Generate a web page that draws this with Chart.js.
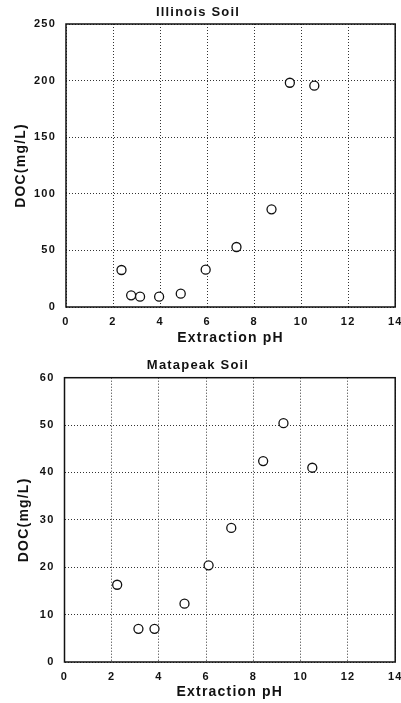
<!DOCTYPE html>
<html>
<head>
<meta charset="utf-8">
<script src="https://cdn.jsdelivr.net/npm/chart.js@4/dist/chart.umd.min.js"></script>
<style>
  body { margin: 0; background: #fff; }
  .box { position: absolute; left: 0; width: 401px; }
</style>
</head>
<body>
<div class="box" style="top:0;height:350px"><canvas id="illinois"></canvas></div>
<div class="box" style="top:350px;height:353px"><canvas id="matapeak"></canvas></div>
<script>
// Illinois soil: extraction pH vs DOC (mg/L)
const illinoisPH = [2.36, 2.77, 3.15, 3.96, 4.88, 5.94, 7.25, 8.74, 9.52, 10.56];
const illinoisDOC = [32.7, 10.3, 9.1, 9.1, 11.8, 33, 53, 86.3, 198.1, 195.5];

// Matapeak soil
const matapeakPH = [2.23, 3.13, 3.81, 5.08, 6.10, 7.06, 8.41, 9.27, 10.49];
const matapeakDOC = [16.3, 7.0, 7.0, 12.3, 20.4, 28.3, 42.4, 50.4, 41.0];

const xTicks = [0, 2, 4, 6, 8, 10, 12, 14];

Chart.defaults.font.family = "'Liberation Sans', Arial, sans-serif";
Chart.defaults.color = '#111';

const frame = {
  id: 'frame',
  beforeDraw(chart) {
    chart.ctx.letterSpacing = '1.2px';
  },
  afterDatasetsDraw(chart) {
    const a = chart.chartArea;
    const ctx = chart.ctx;
    ctx.save();
    ctx.strokeStyle = '#111';
    ctx.lineWidth = 1.5;
    ctx.strokeRect(a.left, a.top, a.right - a.left, a.bottom - a.top);
    ctx.restore();
  }
};

function makeChart(id, title, xs, ys, yMax, yStep, opt) {
  const pts = xs.map((x, i) => ({ x: x, y: ys[i] }));
  return new Chart(document.getElementById(id), {
    type: 'scatter',
    data: {
      datasets: [{
        data: pts,
        pointRadius: 4.5,
        pointBorderWidth: 1.3,
        borderColor: '#111',
        backgroundColor: '#fff'
      }]
    },
    options: {
      responsive: true,
      maintainAspectRatio: false,
      animation: false,
      layout: { padding: { left: 0, right: 5, top: 0, bottom: 0 } },
      plugins: {
        legend: { display: false },
        tooltip: { enabled: false },
        title: {
          display: true,
          text: title,
          color: '#111',
          font: { size: 13, weight: 'bold' },
          padding: { top: opt.titleTop, bottom: opt.titleBottom }
        }
      },
      scales: {
        x: {
          type: 'linear',
          min: 0,
          max: 14,
          afterBuildTicks: s => { s.ticks = xTicks.map(v => ({ value: v })); },
          afterFit: s => { s.height = opt.xHeight; s.paddingLeft = 0; s.paddingRight = 0; },
          grid: { color: '#333', drawTicks: false },
          border: { display: false, dash: [1, 2] },
          ticks: { font: { size: 11, weight: 'bold' }, padding: 8, maxRotation: 0 },
          title: {
            display: true,
            text: 'Extraction pH',
            font: { size: 14, weight: 'bold' },
            padding: { top: 0, bottom: opt.xTitleBottom }
          }
        },
        y: {
          min: 0,
          max: yMax,
          afterFit: s => { s.width = opt.yWidth; },
          grid: { color: '#333', drawTicks: false },
          border: { display: false, dash: [1, 2] },
          ticks: { stepSize: yStep, font: { size: 11, weight: 'bold' }, padding: 10 },
          title: {
            display: true,
            text: 'DOC(mg/L)',
            font: { size: 14, weight: 'bold' },
            padding: { top: opt.yTitleLeft, bottom: 0 }
          }
        }
      }
    },
    plugins: [frame]
  });
}

makeChart('illinois', 'Illinois Soil', illinoisPH, illinoisDOC, 250, 50,
  { titleTop: 4.2, titleBottom: 4.2, xHeight: 43, yWidth: 66, xTitleBottom: 3.5, yTitleLeft: 13 });
makeChart('matapeak', 'Matapeak Soil', matapeakPH, matapeakDOC, 60, 10,
  { titleTop: 7.2, titleBottom: 4.9, xHeight: 41, yWidth: 64.5, xTitleBottom: 2, yTitleLeft: 15.5 });
</script>
</body>
</html>
